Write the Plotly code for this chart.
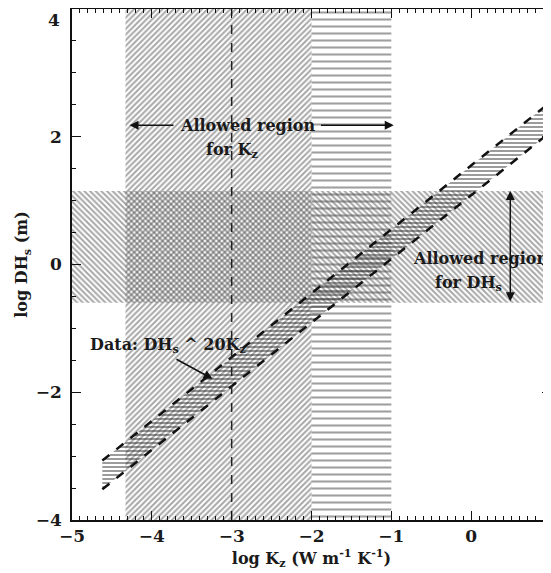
import plotly.graph_objects as go

# Data
kz_region_diag = [-4.33, -2.0]      # log Kz range, diagonal hatch
kz_region_horiz = [-2.0, -1.0]      # log Kz range, horizontal hatch
dh_region = [-0.6, 1.15]            # log DHs allowed range
band_x = [-4.62, 1.0]               # data band log Kz extent
band_upper = [-3.07, 2.55]          # upper edge of data band
band_lower = [-3.52, 2.08]          # lower edge of data band
kz_dashed = -3.0                    # dashed vertical line
x_ticks = [-5, -4, -3, -2, -1, 0, 1]
y_ticks = [-4, -2, 0, 2, 4]
x_range = [-5, 1]
y_range = [-4, 4]

FONT = "DejaVu Serif"
TXT = "#1a1a1a"

def fmt(v):
    return f"<b>{'−' if v < 0 else ''}{abs(v)}</b>"

fig = go.Figure()

def rect(x0, x1, y0, y1, shape, size, color, solidity):
    fig.add_trace(go.Scatter(
        x=[x0, x1, x1, x0, x0], y=[y0, y0, y1, y1, y0],
        mode="lines", line=dict(width=0), fill="toself",
        fillcolor="rgba(0,0,0,0)",
        fillpattern=dict(shape=shape, size=size, solidity=solidity,
                         fgcolor=color, bgcolor="rgba(0,0,0,0)"),
        hoverinfo="skip", showlegend=False))

rect(kz_region_diag[0], kz_region_diag[1], y_range[0], y_range[1], "/", 4, "#505050", 0.5)
rect(kz_region_horiz[0], kz_region_horiz[1], y_range[0], y_range[1], "-", 7, "#404040", 0.3)
rect(x_range[0], x_range[1], dh_region[0], dh_region[1], "\\", 4, "#505050", 0.5)

# data band
bx = [band_x[0], band_x[1], band_x[1], band_x[0], band_x[0]]
by = [band_lower[0], band_lower[1], band_upper[1], band_upper[0], band_lower[0]]
fig.add_trace(go.Scatter(
    x=bx, y=by, mode="lines", line=dict(width=0), fill="toself",
    fillcolor="rgba(0,0,0,0)",
    fillpattern=dict(shape="-", size=4, solidity=0.45, fgcolor="#222222",
                     bgcolor="rgba(0,0,0,0)"),
    hoverinfo="skip", showlegend=False))
for edge in (band_upper, band_lower):
    fig.add_trace(go.Scatter(x=band_x, y=edge, mode="lines",
                             line=dict(color="#111", width=2.5, dash="dash"),
                             hoverinfo="skip", showlegend=False))

fig.add_trace(go.Scatter(x=[kz_dashed, kz_dashed], y=y_range, mode="lines",
                         line=dict(color="#222", width=1.5, dash="dash"),
                         hoverinfo="skip", showlegend=False))

tf = dict(family=FONT, size=16, color=TXT)
ann = []
def text(x, y, s, xanchor="center"):
    ann.append(dict(x=x, y=y, xref="x", yref="y", text=s, showarrow=False,
                    font=tf, xanchor=xanchor, yanchor="middle"))
def arrow(x0, y0, x1, y1, both=False):
    ann.append(dict(x=x1, y=y1, ax=x0, ay=y0, xref="x", yref="y",
                    axref="x", ayref="y", text="", showarrow=True,
                    arrowhead=2, arrowsize=1.2, arrowwidth=1.5,
                    arrowcolor="#111",
                    arrowside="end+start" if both else "end"))

text(-2.8, 2.18, "<b>Allowed region</b>")
text(-3.0, 1.78, "<b>for K<sub>z</sub></b>")
arrow(-3.71, 2.18, -4.28, 2.18)
arrow(-1.9, 2.18, -0.97, 2.18)
text(0.12, 0.1, "<b>Allowed region</b>")
text(-0.03, -0.3, "<b>for DH<sub>s</sub></b>")
arrow(0.49, -0.6, 0.49, 1.15, both=True)
text(-4.8, -1.27, "<b>Data: DH<sub>s</sub> ^ 20K<sub>z</sub></b>", xanchor="left")
arrow(-3.71, -1.47, -3.24, -1.79)

# top y tick label (kept inside the page)
ann.append(dict(x=0, y=y_ticks[-1], xref="paper", yref="y", text=fmt(y_ticks[-1]),
                showarrow=False, xanchor="right", yanchor="top", xshift=-10, yshift=1,
                font=dict(family=FONT, size=17, color=TXT)))

axis_common = dict(showline=True, linecolor="#111", linewidth=1.5, mirror="allticks",
                   ticks="inside", ticklen=9, tickwidth=1.3, tickcolor="#111",
                   showgrid=False, zeroline=False, automargin=False,
                   tickfont=dict(family=FONT, size=17, color=TXT))

# the page body adds an 8px offset; margins compensate for it
fig.update_layout(
    width=551, height=573,
    margin=dict(l=64, r=8, t=1, b=61),
    paper_bgcolor="white", plot_bgcolor="white",
    annotations=ann,
    xaxis=dict(range=x_range, tickvals=x_ticks,
               ticktext=[fmt(v) for v in x_ticks],
               ticklabeloverflow="allow",
               minor=dict(dtick=0.1, ticks="inside", ticklen=4, tickcolor="#111", showgrid=False),
               title=dict(text="<b>log K<sub>z</sub> (W m<sup>-1</sup> K<sup>-1</sup>)</b>",
                          font=dict(family=FONT, size=16, color=TXT), standoff=0),
               **axis_common),
    yaxis=dict(range=y_range, tickvals=y_ticks,
               ticktext=[fmt(v) if v != y_ticks[-1] else "" for v in y_ticks],
               ticklabelstandoff=5,
               minor=dict(dtick=0.5, ticks="inside", ticklen=4, tickcolor="#111", showgrid=False),
               title=dict(text="<b>log DH<sub>s</sub> (m)</b>",
                          font=dict(family=FONT, size=16, color=TXT), standoff=4),
               **axis_common),
)

fig.write_html("out.html")
